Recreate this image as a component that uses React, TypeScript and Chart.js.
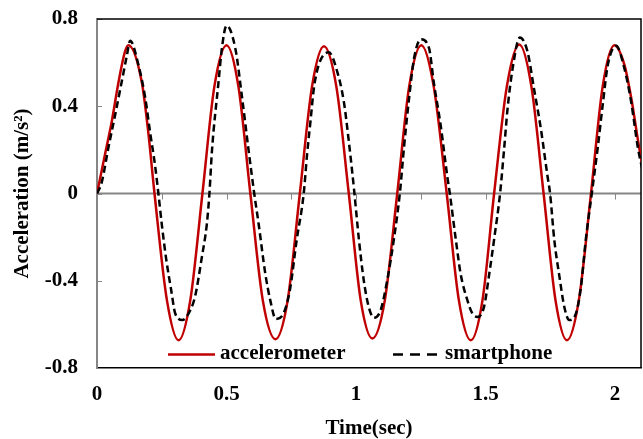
import React, { useEffect, useRef } from 'react';
import { Chart, registerables } from 'chart.js';

Chart.register(...registerables);

// ---- data ----
const accelTime = [0, 0.031, 0.057, 0.083, 0.108, 0.121, 0.173, 0.198, 0.222, 0.27, 0.315, 0.36, 0.407, 0.453, 0.5, 0.546, 0.592, 0.64, 0.689, 0.736, 0.783, 0.83, 0.876, 0.924, 0.972, 1.018, 1.063, 1.111, 1.159, 1.205, 1.252, 1.3, 1.35, 1.397, 1.443, 1.488, 1.533, 1.582, 1.63, 1.677, 1.724, 1.77, 1.814, 1.86, 1.907, 1.952, 1.997, 2.036, 2.062, 2.093, 2.11];
const accelValues = [0, 0.18, 0.33, 0.51, 0.65, 0.68, 0.51, 0.28, 0, -0.49, -0.673, -0.49, 0, 0.49, 0.68, 0.49, 0, -0.49, -0.668, -0.49, 0, 0.49, 0.675, 0.49, 0, -0.49, -0.665, -0.49, 0, 0.49, 0.68, 0.49, 0, -0.49, -0.673, -0.49, 0, 0.49, 0.683, 0.49, 0, -0.49, -0.673, -0.49, 0, 0.49, 0.68, 0.59, 0.44, 0.21, 0.1];

const phoneTime = [0, 0.018, 0.044, 0.07, 0.095, 0.115, 0.128, 0.16, 0.186, 0.205, 0.224, 0.237, 0.25, 0.267, 0.286, 0.302, 0.33, 0.36, 0.379, 0.405, 0.424, 0.434, 0.444, 0.469, 0.482, 0.5, 0.534, 0.56, 0.585, 0.607, 0.624, 0.65, 0.669, 0.69, 0.72, 0.745, 0.77, 0.798, 0.811, 0.824, 0.837, 0.856, 0.895, 0.927, 0.953, 0.972, 0.993, 1.011, 1.03, 1.049, 1.069, 1.095, 1.12, 1.146, 1.169, 1.185, 1.205, 1.224, 1.25, 1.282, 1.3, 1.327, 1.352, 1.362, 1.385, 1.404, 1.43, 1.449, 1.469, 1.494, 1.514, 1.533, 1.556, 1.572, 1.585, 1.604, 1.632, 1.662, 1.687, 1.713, 1.739, 1.749, 1.765, 1.785, 1.804, 1.823, 1.849, 1.868, 1.887, 1.91, 1.933, 1.952, 1.972, 2.004, 2.036, 2.062, 2.088, 2.107];
const phoneValues = [0, 0.05, 0.21, 0.36, 0.51, 0.63, 0.7, 0.59, 0.44, 0.28, 0.13, 0, -0.14, -0.3, -0.44, -0.55, -0.58, -0.535, -0.47, -0.29, -0.14, 0, 0.2, 0.51, 0.665, 0.77, 0.665, 0.44, 0.2, 0, -0.14, -0.37, -0.49, -0.575, -0.55, -0.44, -0.22, 0, 0.18, 0.33, 0.48, 0.59, 0.647, 0.56, 0.42, 0.24, 0.01, -0.21, -0.4, -0.52, -0.57, -0.535, -0.4, -0.21, 0, 0.21, 0.44, 0.62, 0.707, 0.665, 0.51, 0.31, 0.08, 0, -0.21, -0.37, -0.49, -0.55, -0.566, -0.52, -0.37, -0.21, 0, 0.21, 0.39, 0.57, 0.715, 0.65, 0.48, 0.3, 0.08, 0, -0.21, -0.38, -0.52, -0.58, -0.55, -0.43, -0.21, 0, 0.21, 0.405, 0.59, 0.677, 0.573, 0.42, 0.21, 0.1];

const seriesLabels = ['accelerometer', 'smartphone'];
const xTickValues = [0, 0.5, 1, 1.5, 2];
const xMinorTickValues = [0.25, 0.5, 0.75, 1, 1.25, 1.5, 1.75, 2];
const yTickValues = [-0.8, -0.4, 0, 0.4, 0.8];
const xAxisTitle = 'Time(sec)';
const yAxisTitle = 'Acceleration (m/s²)';

const FONT = '"Liberation Serif", "Times New Roman", serif';
const RED = '#C00000';
const GRAY = '#868686';

const fmt = (v: number) => String(Number(v.toFixed(2)));

const framePlugin = {
  id: 'frame',
  beforeDatasetsDraw(chart: any) {
    const { ctx, chartArea: a, scales } = chart;
    const x = scales.x;
    const y = scales.y;
    const y0 = y.getPixelForValue(0);
    ctx.save();
    ctx.strokeStyle = GRAY;
    ctx.lineWidth = 2;
    ctx.beginPath();
    ctx.moveTo(a.left, y0);
    ctx.lineTo(a.right, y0);
    ctx.stroke();
    ctx.lineWidth = 1;
    ctx.beginPath();
    xMinorTickValues.forEach((v) => {
      const px = Math.round(x.getPixelForValue(v)) + 0.5;
      ctx.moveTo(px, y0);
      ctx.lineTo(px, y0 + 6);
    });
    yTickValues.forEach((v) => {
      const py = Math.round(y.getPixelForValue(v)) + 0.5;
      ctx.moveTo(a.left, py);
      ctx.lineTo(a.left + 5, py);
    });
    ctx.stroke();
    ctx.strokeStyle = '#000';
    ctx.lineWidth = 1.5;
    ctx.beginPath();
    ctx.moveTo(a.left, a.top);
    ctx.lineTo(a.right, a.top);
    ctx.lineTo(a.right, a.bottom);
    ctx.stroke();
    ctx.restore();
  },
};

const legendPlugin = {
  id: 'inlineLegend',
  afterDatasetsDraw(chart: any) {
    const { ctx, chartArea: a } = chart;
    const lineY = a.bottom - 13.5;
    const textY = a.bottom - 9;
    const items = [
      { x0: a.left + 71, x1: a.left + 118, tx: a.left + 123 },
      { x0: a.left + 296, x1: a.left + 346, tx: a.left + 348 },
    ];
    ctx.save();
    chart.data.datasets.forEach((ds: any, i: number) => {
      const it = items[i];
      ctx.strokeStyle = ds.borderColor;
      ctx.lineWidth = ds.borderWidth;
      ctx.setLineDash(ds.borderDash && ds.borderDash.length ? [10, 7] : []);
      ctx.beginPath();
      ctx.moveTo(it.x0, lineY);
      ctx.lineTo(it.x1, lineY);
      ctx.stroke();
      ctx.setLineDash([]);
      ctx.fillStyle = '#000';
      ctx.font = `bold 21px ${FONT}`;
      ctx.textAlign = 'left';
      ctx.textBaseline = 'alphabetic';
      ctx.fillText(ds.label, it.tx, textY);
    });
    ctx.restore();
  },
};

export default function App() {
  const ref = useRef<HTMLCanvasElement | null>(null);

  useEffect(() => {
    if (!ref.current) return;
    const chart = new Chart(ref.current, {
      type: 'line',
      data: {
        datasets: [
          {
            label: seriesLabels[0],
            data: accelTime.map((t, i) => ({ x: t, y: accelValues[i] })),
            borderColor: RED,
            borderWidth: 2.5,
            pointRadius: 0,
            cubicInterpolationMode: 'monotone',
            fill: false,
            order: 1,
          },
          {
            label: seriesLabels[1],
            data: phoneTime.map((t, i) => ({ x: t, y: phoneValues[i] })),
            borderColor: '#000',
            borderWidth: 2.5,
            borderDash: [7, 4],
            pointRadius: 0,
            cubicInterpolationMode: 'monotone',
            fill: false,
            order: 0,
          },
        ],
      },
      options: {
        responsive: false,
        animation: false,
        events: [],
        layout: { padding: { top: 19, right: 2, left: 0, bottom: 0 } },
        plugins: { legend: { display: false }, tooltip: { enabled: false } },
        scales: {
          x: {
            type: 'linear',
            min: 0,
            max: 2.1,
            afterFit: (s: any) => { s.height = 71; s.paddingLeft = 0; s.paddingRight = 0; },
            afterBuildTicks: (s: any) => { s.ticks = xTickValues.map((v) => ({ value: v })); },
            grid: { display: false, drawTicks: false },
            border: { display: true, color: '#000', width: 1.5 },
            ticks: {
              color: '#000',
              font: { family: FONT, size: 21, weight: 'bold' },
              padding: 14,
              maxRotation: 0,
              autoSkip: false,
              callback: (v: any) => fmt(Number(v)),
            },
            title: {
              display: true,
              text: xAxisTitle,
              color: '#000',
              font: { family: FONT, size: 21, weight: 'bold' },
              padding: { top: 0, bottom: -2 },
            },
          },
          y: {
            type: 'linear',
            min: -0.8,
            max: 0.8,
            afterFit: (s: any) => { s.width = 97; s.paddingTop = 0; s.paddingBottom = 0; },
            afterBuildTicks: (s: any) => { s.ticks = yTickValues.map((v) => ({ value: v })); },
            grid: { display: false, drawTicks: false },
            border: { display: true, color: GRAY, width: 2 },
            ticks: {
              color: '#000',
              font: { family: FONT, size: 21, weight: 'bold' },
              padding: 19,
              autoSkip: false,
              callback: (v: any) => fmt(Number(v)),
            },
            title: {
              display: true,
              text: yAxisTitle,
              color: '#000',
              font: { family: FONT, size: 21, weight: 'bold' },
              padding: { top: 10, bottom: 0 },
            },
          },
        },
      },
      plugins: [framePlugin, legendPlugin],
    } as any);
    return () => chart.destroy();
  }, []);

  return (
    <div style={{ position: 'absolute', left: 0, top: 0, width: 643, height: 439, background: '#fff' }}>
      <canvas ref={ref} width={643} height={439} style={{ display: 'block' }} />
    </div>
  );
}
